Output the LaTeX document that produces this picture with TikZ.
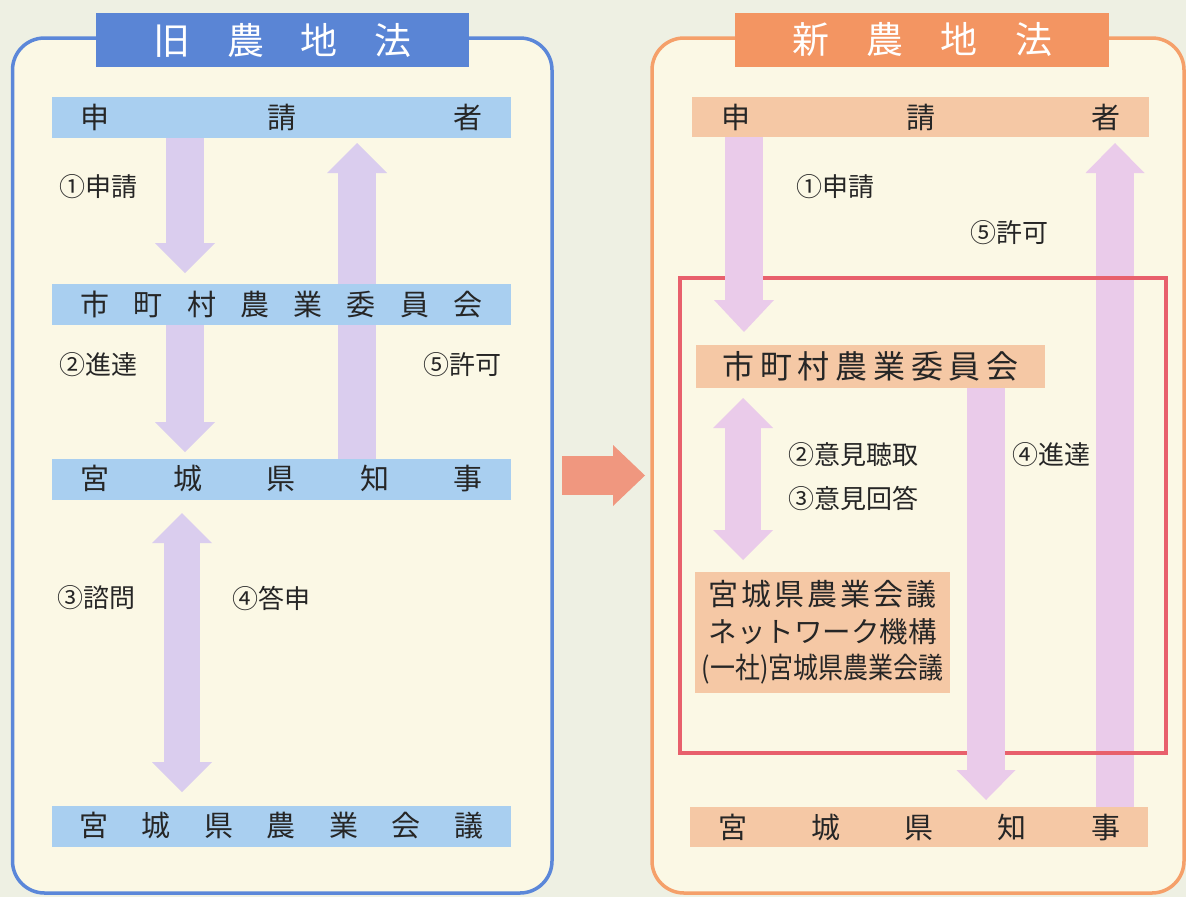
\documentclass[tikz,border=0pt]{standalone}
\usepackage{fontspec}
\usepackage{graphicx}
\setmainfont{Noto Sans CJK JP}
\usetikzlibrary{arrows.meta}
\pgfdeclarelayer{bg}
\pgfdeclarelayer{upr}
\pgfdeclarelayer{red}
\pgfdeclarelayer{arr}
\pgfsetlayers{bg,upr,red,arr,main}
\definecolor{pagebg}{HTML}{EEF0E3}
\definecolor{panelbg}{HTML}{FBF8E5}
\definecolor{lborder}{HTML}{5B87D9}
\definecolor{ltitlec}{HTML}{5A85D5}
\definecolor{lboxc}{HTML}{A9CFF0}
\definecolor{rborder}{HTML}{F5A06A}
\definecolor{rtitlec}{HTML}{F39562}
\definecolor{rboxc}{HTML}{F5C8A5}
\definecolor{redc}{HTML}{E8606C}
\definecolor{larc}{HTML}{DACDEE}
\definecolor{rarc}{HTML}{EACBEA}
\definecolor{midc}{HTML}{F0977F}
\definecolor{txt}{HTML}{262626}
\begin{document}
\begin{tikzpicture}[x=1pt,y=-1pt,
  lbox/.style={fill=lboxc, minimum width=459pt, minimum height=41pt, inner sep=0pt, outer sep=0pt, text=txt, font=\fontsize{29}{29}\selectfont},
  rbox/.style={fill=rboxc, minimum width=457pt, minimum height=40pt, inner sep=0pt, outer sep=0pt, text=txt, font=\fontsize{29}{29}\selectfont},
  titlebox/.style={minimum height=54pt, inner sep=0pt, outer sep=0pt, text=white, font=\fontsize{37}{37}\selectfont},
  panel/.style={rounded corners=32pt, line width=3.5pt, fill=panelbg, inner sep=0pt, outer sep=0pt},
  lbl/.style={anchor=west, inner sep=0pt, text=txt, font=\fontsize{26}{26}\selectfont},
  larr/.style={draw=larc, line width=38pt, -{Triangle[width=60pt,length=30pt,line width=0pt]}},
  ldarr/.style={draw=larc, line width=36pt, {Triangle[width=60pt,length=30pt,line width=0pt]}-{Triangle[width=60pt,length=30pt,line width=0pt]}},
  rarr/.style={draw=rarc, line width=38pt, -{Triangle[width=60pt,length=32pt,line width=0pt]}},
  rdarr/.style={draw=rarc, line width=36pt, {Triangle[width=60pt,length=30pt,line width=0pt]}-{Triangle[width=60pt,length=30pt,line width=0pt]}},
  midarr/.style={draw=midc, line width=39pt, -{Triangle[width=61pt,length=32pt,line width=0pt]}}
]
\begin{pgfonlayer}{bg}
  \fill[pagebg] (0,0) rectangle (1186,897);
  \node[panel, draw=lborder, minimum width=539.5pt, minimum height=855pt] (LP) at (282.25,465.5) {};
  \node[panel, draw=rborder, minimum width=532pt, minimum height=855pt] (RP) at (918,465.5) {};
\end{pgfonlayer}

% titles
\node[titlebox, fill=ltitlec, minimum width=373pt] (LT) at (282.5,40) {\makebox[258pt][s]{旧\hfill 農\hfill 地\hfill 法}};
\node[titlebox, fill=rtitlec, minimum width=374pt] (RT) at (922,40) {\makebox[260pt][s]{新\hfill 農\hfill 地\hfill 法}};

% left boxes
\node[lbox] (L1) at (281.5,117.5) {\makebox[402pt][s]{申\hfill 請\hfill 者}};
\node[lbox] (L2) at (281.5,304) {\makebox[402pt][s]{市\hfill 町\hfill 村\hfill 農\hfill 業\hfill 委\hfill 員\hfill 会}};
\node[lbox] (L3) at (281.5,479) {\makebox[402pt][s]{宮\hfill 城\hfill 県\hfill 知\hfill 事}};
\node[lbox] (L4) at (281.5,826) {\makebox[404pt][s]{宮\hfill 城\hfill 県\hfill 農\hfill 業\hfill 会\hfill 議}};

% right boxes
\node[rbox] (R1) at (920.5,117) {\makebox[399pt][s]{申\hfill 請\hfill 者}};
\node[rbox, minimum width=349pt, minimum height=43pt, font=\fontsize{32}{32}\selectfont] (R2) at (870.5,366.5) {\makebox[296pt][s]{市\hfill 町\hfill 村\hfill 農\hfill 業\hfill 委\hfill 員\hfill 会}};
\node[rbox, minimum width=255pt, minimum height=121pt, align=center, font=\fontsize{30}{36.5}\selectfont] (R3) at (822.5,632.5)
  {\makebox[228pt][s]{宮\hfill 城\hfill 県\hfill 農\hfill 業\hfill 会\hfill 議}\\
   {\fontsize{28.5}{36.5}\selectfont\makebox[228pt][s]{ネ\hfill ッ\hfill ト\hfill ワ\hfill ー\hfill ク\hfill 機\hfill 構}}\\
   {\fontsize{29}{36.5}\selectfont\scalebox{0.86}[1]{(一社)宮城県農業会議}}};
\node[rbox, minimum width=458pt] (R4) at (919,827) {\makebox[402pt][s]{宮\hfill 城\hfill 県\hfill 知\hfill 事}};

% arrow axes
\coordinate (xa) at (185,0);
\coordinate (xb) at (357,0);
\coordinate (xc) at (182,0);
\coordinate (xd) at (744,0);
\coordinate (xe) at (1115,0);
\coordinate (xf) at (743,0);
\coordinate (xg) at (986,0);
\coordinate (midy) at (0,475.5);

\begin{pgfonlayer}{upr}
  \draw[rarr, -{Triangle[width=59pt,length=30pt,line width=0pt]}, shorten >=6pt] (R4.north -| xe) -- (R1.south -| xe);
\end{pgfonlayer}
\begin{pgfonlayer}{red}
  \draw[redc, line width=4pt] (680,278) rectangle (1166,753);
\end{pgfonlayer}
\begin{pgfonlayer}{arr}
  \draw[larr, shorten >=10.5pt] (L1.south -| xa) -- (L2.north -| xa);
  \draw[larr, shorten >=6.5pt] (L2.south -| xa) -- (L3.north -| xa);
  \draw[larr, shorten >=5pt] (L3.north -| xb) -- (L1.south -| xb);
  \draw[ldarr, shorten <=13.5pt, shorten >=13.5pt] (L3.south -| xc) -- (L4.north -| xc);
  \draw[rarr, shorten >=13pt] (R1.south -| xd) -- (R2.north -| xd);
  \draw[rdarr, shorten <=10pt, shorten >=12pt] (R2.south -| xf) -- (R3.north -| xf);
  \draw[rarr, -{Triangle[width=59pt,length=30pt,line width=0pt]}, shorten >=7pt] (R2.south -| xg) -- (R4.north -| xg);
  \draw[midarr, shorten <=10pt, shorten >=7pt] (LP.east |- midy) -- (RP.west |- midy);
\end{pgfonlayer}

% labels
\node[lbl] (l1) at (59,187) {①申請};
\node[lbl] (l2) at (59,365) {②進達};
\node[lbl] (l5) at (423,365) {⑤許可};
\node[lbl] (l3) at (57,598) {③諮問};
\node[lbl] (l4) at (232,598) {④答申};
\node[lbl] (r1) at (796,187) {①申請};
\node[lbl] (r5) at (970,233) {⑤許可};
\node[lbl] (r2) at (788,455) {②意見聴取};
\node[lbl] (r3) at (788,498) {③意見回答};
\node[lbl] (r4) at (1012,455) {④進達};
\end{tikzpicture}
\end{document}
